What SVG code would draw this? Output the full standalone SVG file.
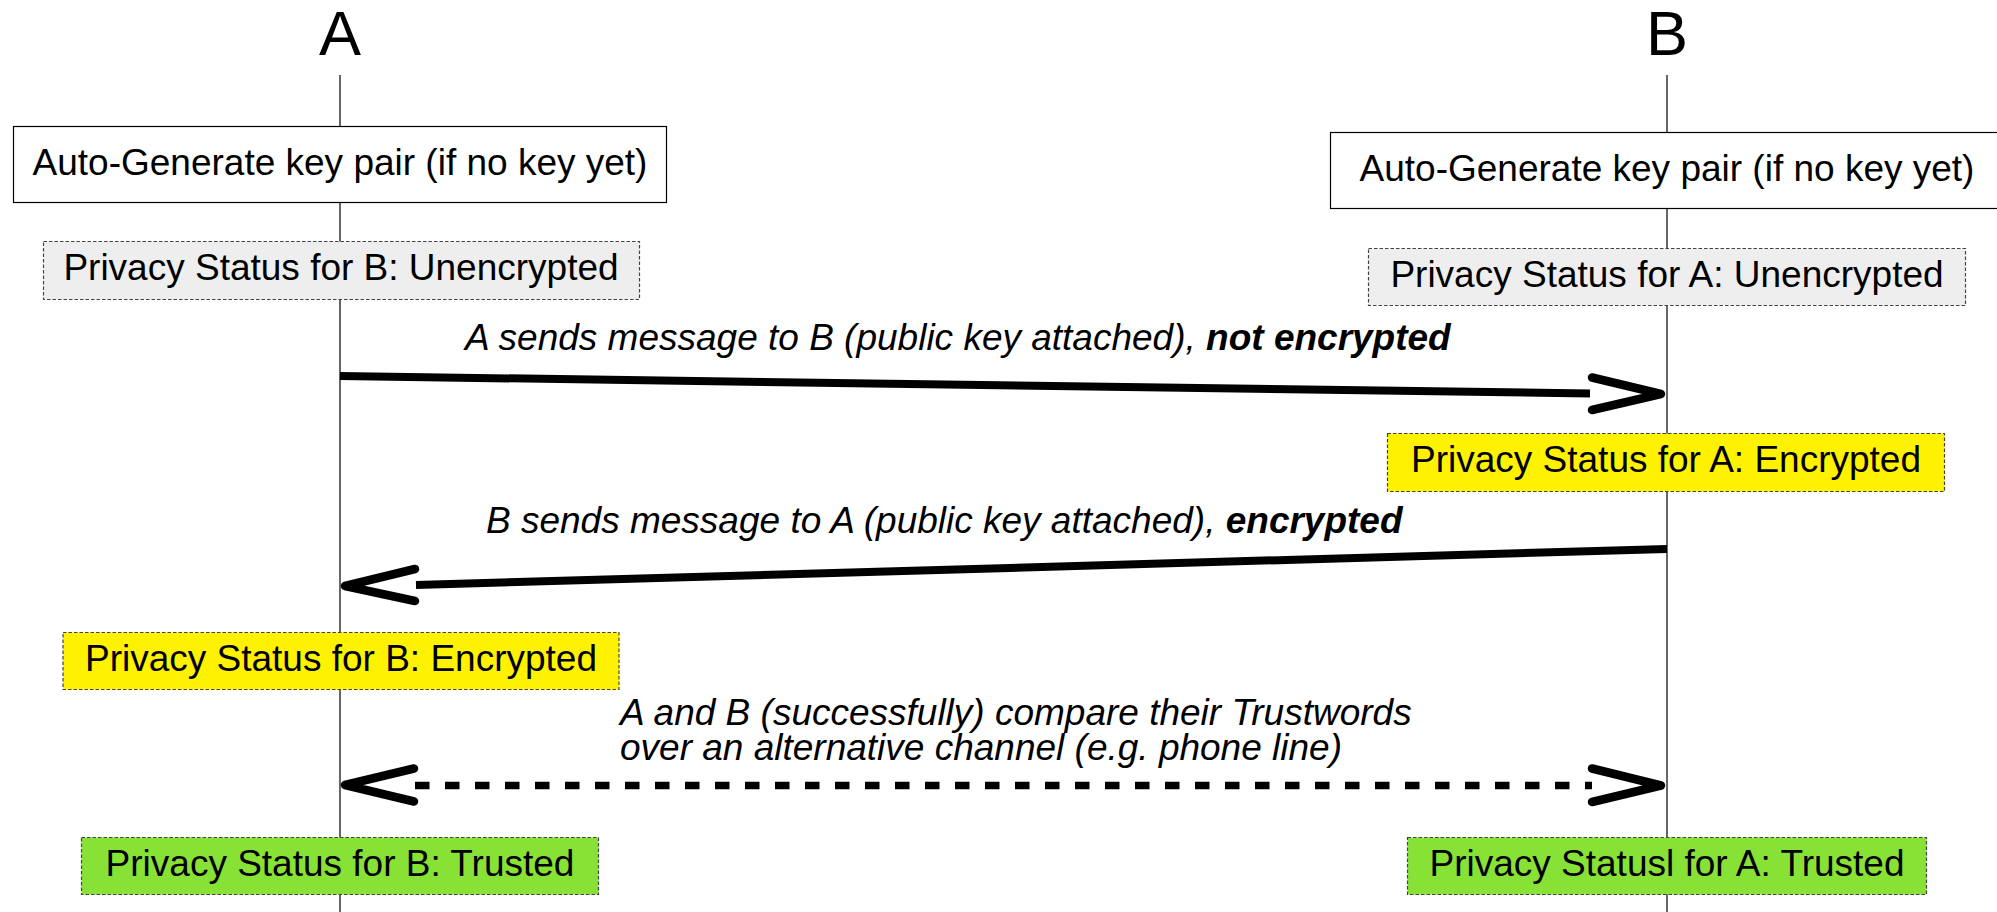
<svg xmlns="http://www.w3.org/2000/svg" width="1997" height="912" viewBox="0 0 1997 912">
  <style>
    text { font-family: "Liberation Sans", Arial, sans-serif; fill: #000; }
    .title { font-size: 63px; text-anchor: middle; }
    .lbl { font-size: 37px; text-anchor: middle; }
    .msg { font-size: 37px; font-style: italic; }
    .msg .b { font-weight: bold; }
    .life { stroke: #000; stroke-width: 1.2; fill: none; }
    .box { fill: #fff; stroke: #000; stroke-width: 1.2; }
    .st { stroke: #444; stroke-width: 1.2; stroke-dasharray: 3.5 2; }
    .gray { fill: #eeeeee; }
    .yellow { fill: #fff200; }
    .green { fill: #88e236; }
    .line { stroke: #000; stroke-width: 8; fill: none; }
    .dash { stroke-width: 7.5; stroke-dasharray: 14.5 15.5; }
    .head { stroke: #000; stroke-width: 8.5; fill: none; stroke-linecap: round; stroke-linejoin: round; }
  </style>
  <rect width="1997" height="912" fill="#fff"/>

  <g id="lifelines">
    <g id="actorA">
      <text class="title" x="340" y="55">A</text>
      <line class="life" x1="340" y1="75" x2="340" y2="912"/>
    </g>
    <g id="actorB">
      <text class="title" x="1667" y="55">B</text>
      <line class="life" x1="1667" y1="75" x2="1667" y2="912"/>
    </g>
  </g>

  <g id="keygenA">
    <rect class="box" x="13.5" y="126.5" width="653" height="76"/>
    <text class="lbl" x="340" y="175">Auto-Generate key pair (if no key yet)</text>
  </g>
  <g id="keygenB">
    <rect class="box" x="1330.5" y="132.5" width="674" height="76"/>
    <text class="lbl" x="1667" y="181">Auto-Generate key pair (if no key yet)</text>
  </g>

  <g id="statusA1">
    <rect class="st gray" x="43.5" y="241.5" width="596" height="58"/>
    <text class="lbl" x="341" y="280">Privacy Status for B: Unencrypted</text>
  </g>
  <g id="statusB1">
    <rect class="st gray" x="1368.5" y="248.5" width="597" height="57"/>
    <text class="lbl" x="1667" y="287">Privacy Status for A: Unencrypted</text>
  </g>

  <g id="statusB2">
    <rect class="st yellow" x="1387.5" y="433.5" width="557" height="58"/>
    <text class="lbl" x="1666" y="472">Privacy Status for A: Encrypted</text>
  </g>
  <g id="statusA2">
    <rect class="st yellow" x="63" y="632.5" width="556" height="57"/>
    <text class="lbl" x="341" y="671">Privacy Status for B: Encrypted</text>
  </g>

  <g id="statusA3">
    <rect class="st green" x="81.5" y="837.5" width="517" height="57"/>
    <text class="lbl" x="340" y="876">Privacy Status for B: Trusted</text>
  </g>
  <g id="statusB3">
    <rect class="st green" x="1407.5" y="837.5" width="519" height="57"/>
    <text class="lbl" x="1667" y="876">Privacy Statusl for A: Trusted</text>
  </g>

  <g id="connectors">
    <g id="msg1">
      <line class="line" x1="340" y1="376" x2="1590" y2="393.5"/>
      <polyline class="head" points="1592,377.5 1661,394 1592,410"/>
      <text class="msg" x="465" y="350">A sends message to B (public key attached), <tspan class="b">not encrypted</tspan></text>
    </g>
    <g id="msg2">
      <line class="line" x1="1667" y1="549" x2="416" y2="585"/>
      <polyline class="head" points="415,569 345,586 415,601"/>
      <text class="msg" x="486" y="533">B sends message to A (public key attached), <tspan class="b">encrypted</tspan></text>
    </g>
    <g id="msg3">
      <line class="line dash" x1="415" y1="785.5" x2="1592" y2="785.5"/>
      <polyline class="head" points="414,768.5 345,785 414,801.5"/>
      <polyline class="head" points="1592,768.5 1661,785.5 1592,802"/>
      <text class="msg"><tspan x="620" y="725">A and B (successfully) compare their Trustwords</tspan><tspan x="620" y="760">over an alternative channel (e.g. phone line)</tspan></text>
    </g>
  </g>
</svg>
